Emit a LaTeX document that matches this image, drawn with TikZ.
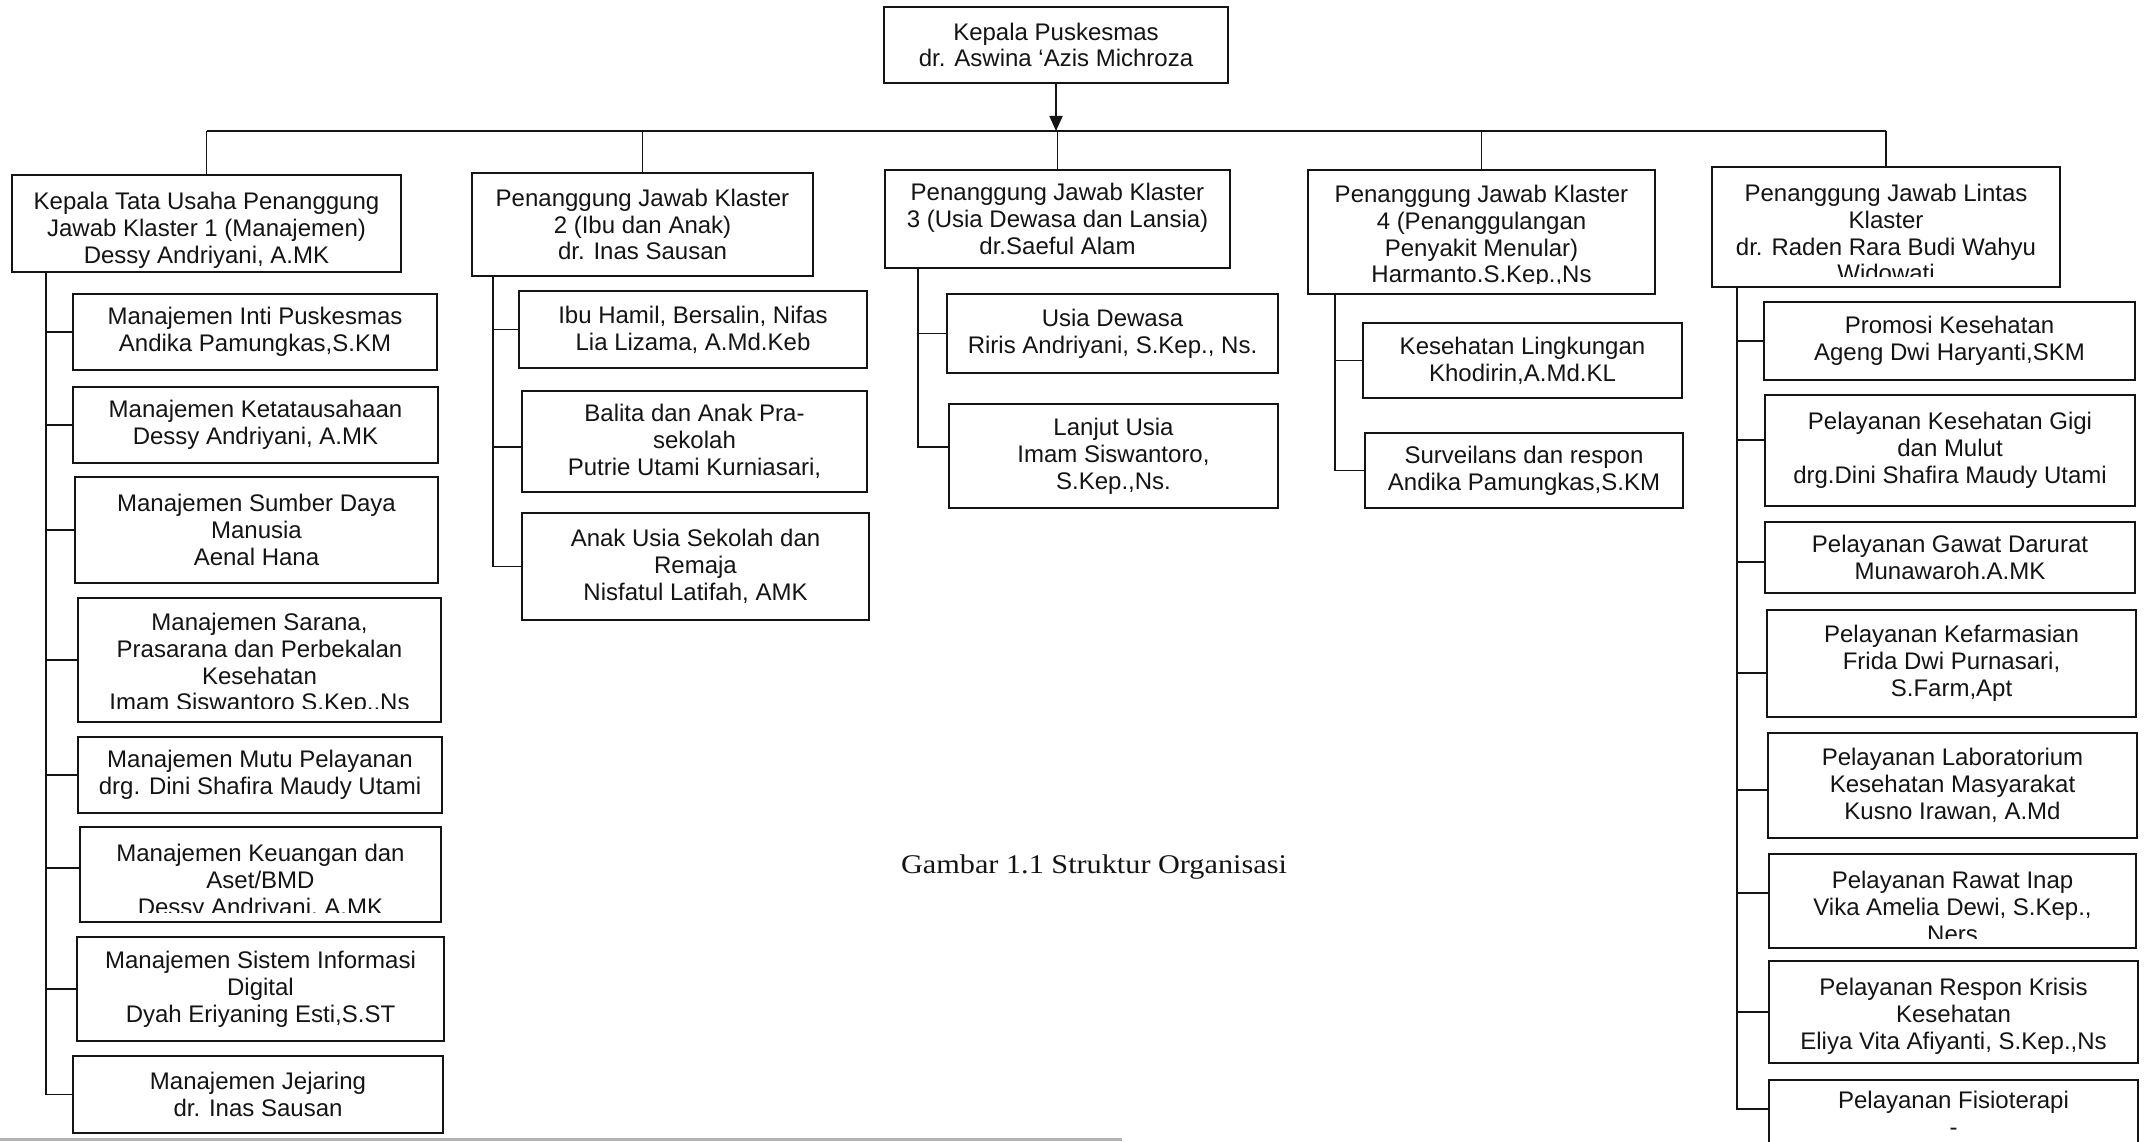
\documentclass[tikz,border=0pt]{standalone}
\usepackage{fontspec}
\setmainfont{Liberation Sans}
\newfontfamily\capserif[FakeStretch=1.12]{Liberation Serif}
\usetikzlibrary{arrows.meta}
\definecolor{ink}{HTML}{141414}
\newcommand\orgfont{\fontsize{24}{26.8}\selectfont}
\tikzset{
  orgbox/.style={draw=ink, line width=2.6pt, inner sep=0pt, align=center, font=\orgfont, text=ink},
  orgtext/.style={inner sep=0pt, align=center, font=\orgfont, text=ink},
  link/.style={draw=ink, line width=1.8pt},
}
% name, x1, y1, x2, y2, text
\newcommand\orgnode[6]{%
  \node[orgbox, minimum width={(#4)-(#2)}, minimum height={(#5)-(#3)}] (#1)
    at ({((#2)+(#4))/2},{((#3)+(#5))/2}) {#6};}
% name, x1, y1, x2, y2, cap top, clip y, text
\newcommand\cliporgnode[8]{%
  \node[orgbox, minimum width={(#4)-(#2)}, minimum height={(#5)-(#3)}] (#1)
    at ({((#2)+(#4))/2},{((#3)+(#5))/2}) {};
  \begin{scope}
    \clip ({(#2)+3},{(#3)+3}) rectangle ({(#4)-3},#7);
    \node[orgtext, anchor=north] (#1t) at ({((#2)+(#4))/2},#6) {#8};
  \end{scope}}
\begin{document}
\begin{tikzpicture}[x=1pt, y=-1pt]
\useasboundingbox (0,0) rectangle (2146,1142);
\clip (0,0) rectangle (2146,1142);
\fill[white] (0,0) rectangle (2146,1142);

% head
\orgnode{head}{884}{7}{1228}{83}{Kepala Puskesmas\\dr. Aswina ‘Azis Michroza}

% level 1
\cliporgnode{b1}{12}{175}{401}{272}{192}{268}{Kepala Tata Usaha Penanggung\\Jawab Klaster 1 (Manajemen)\\Dessy Andriyani, A.MK}
\orgnode{b2}{472}{173}{813}{276}{Penanggung Jawab Klaster\\2 (Ibu dan Anak)\\dr. Inas Sausan}
\orgnode{b3}{885}{170}{1230}{268}{Penanggung Jawab Klaster\\3 (Usia Dewasa dan Lansia)\\dr.Saeful Alam}
\cliporgnode{b4}{1308}{170}{1655}{294}{185}{283.5}{Penanggung Jawab Klaster\\4 (Penanggulangan\\Penyakit Menular)\\Harmanto.S.Kep.,Ns}
\cliporgnode{b5}{1712}{167}{2060}{287}{184}{276}{Penanggung Jawab Lintas\\Klaster\\dr. Raden Rara Budi Wahyu\\Widowati}

% column 1
\orgnode{c1a}{73}{294}{437}{370}{Manajemen Inti Puskesmas\\Andika Pamungkas,S.KM}
\orgnode{c1b}{73}{387}{438}{463}{Manajemen Ketatausahaan\\Dessy Andriyani, A.MK}
\orgnode{c1c}{75}{477}{438}{583}{Manajemen Sumber Daya\\Manusia\\Aenal Hana}
\cliporgnode{c1d}{78}{598}{441}{722}{613}{708}{Manajemen Sarana,\\Prasarana dan Perbekalan\\Kesehatan\\Imam Siswantoro S.Kep.,Ns}
\orgnode{c1e}{78}{737}{442}{813}{Manajemen Mutu Pelayanan\\drg. Dini Shafira Maudy Utami}
\cliporgnode{c1f}{80}{827}{441}{922}{844}{912}{Manajemen Keuangan dan\\Aset/BMD\\Dessy Andriyani, A.MK}
\orgnode{c1g}{77}{937}{444}{1041}{Manajemen Sistem Informasi\\Digital\\Dyah Eriyaning Esti,S.ST}
\orgnode{c1h}{73}{1056}{443}{1133}{Manajemen Jejaring\\dr. Inas Sausan}

% column 2
\orgnode{c2a}{519}{291}{867}{368}{Ibu Hamil, Bersalin, Nifas\\Lia Lizama, A.Md.Keb}
\orgnode{c2b}{522}{391}{867}{492}{Balita dan Anak Pra-\\sekolah\\Putrie Utami Kurniasari,}
\orgnode{c2c}{522}{513}{869}{620}{Anak Usia Sekolah dan\\Remaja\\Nisfatul Latifah, AMK}

% column 3
\orgnode{c3a}{947}{294}{1278}{373}{Usia Dewasa\\Riris Andriyani, S.Kep., Ns.}
\orgnode{c3b}{949}{404}{1278}{508}{Lanjut Usia\\Imam Siswantoro,\\S.Kep.,Ns.}

% column 4
\orgnode{c4a}{1363}{323}{1682}{398}{Kesehatan Lingkungan\\Khodirin,A.Md.KL}
\orgnode{c4b}{1365}{433}{1683}{508}{Surveilans dan respon\\Andika Pamungkas,S.KM}

% column 5
\orgnode{c5a}{1764}{302}{2135}{380}{Promosi Kesehatan\\Ageng Dwi Haryanti,SKM}
\orgnode{c5b}{1765}{395}{2135}{506}{Pelayanan Kesehatan Gigi\\dan Mulut\\drg.Dini Shafira Maudy Utami}
\orgnode{c5c}{1765}{522}{2135}{593}{Pelayanan Gawat Darurat\\Munawaroh.A.MK}
\orgnode{c5d}{1767}{610}{2136}{717}{Pelayanan Kefarmasian\\Frida Dwi Purnasari,\\S.Farm,Apt}
\orgnode{c5e}{1768}{733}{2137}{838}{Pelayanan Laboratorium\\Kesehatan Masyarakat\\Kusno Irawan, A.Md}
\cliporgnode{c5f}{1769}{854}{2136}{948}{871}{938}{Pelayanan Rawat Inap\\Vika Amelia Dewi, S.Kep.,\\Ners}
\cliporgnode{c5g}{1769}{961}{2138}{1063}{978}{1055}{Pelayanan Respon Krisis\\Kesehatan\\Eliya Vita Afiyanti, S.Kep.,Ns}
\cliporgnode{c5h}{1769}{1080}{2138}{1170}{1091}{1160}{Pelayanan Fisioterapi\\-}

% caption
\node[font=\capserif\fontsize{27}{32}\selectfont, anchor=base, text=ink, inner sep=0pt] (cap) at (1094,873) {Gambar 1.1 Struktur Organisasi};

% connectors: head to bus
\coordinate (busy) at (0,131);
\draw[link, -{Triangle[length=15pt, width=13pt]}] (head.south) -- (head.south |- busy);
\draw[link] (b1.north |- busy) -- (b5.north |- busy);
\foreach \n in {b1,b2,b3,b4,b5} \draw[link] (\n.north |- busy) -- (\n.north);

% spines
\coordinate (sp1) at (46,0);
\coordinate (sp2) at (493,0);
\coordinate (sp3) at (918,0);
\coordinate (sp4) at (1335,0);
\coordinate (sp5) at (1737,0);

\foreach \c in {c1a,c1b,c1c,c1d,c1e,c1g,c1h} \draw[link] (sp1 |- b1.south) |- (\c.west);
\draw[link] (sp1 |- b1.south) |- ([yshift=6.5pt]c1f.west);

\draw[link] (sp2 |- b2.south) |- (c2a.west);
\draw[link] (sp2 |- b2.south) |- ([yshift=-5.5pt]c2b.west);
\draw[link] (sp2 |- b2.south) |- (c2c.west);

\draw[link] (sp3 |- b3.south) |- (c3a.west);
\draw[link] (sp3 |- b3.south) |- ([yshift=9pt]c3b.west);

\draw[link] (sp4 |- b4.south) |- (c4a.west);
\draw[link] (sp4 |- b4.south) |- (c4b.west);

\draw[link] (sp5 |- b5.south) |- (c5a.west);
\draw[link] (sp5 |- b5.south) |- ([yshift=10.5pt]c5b.west);
\draw[link] (sp5 |- b5.south) |- ([yshift=-4.5pt]c5c.west);
\draw[link] (sp5 |- b5.south) |- ([yshift=-9.5pt]c5d.west);
\draw[link] (sp5 |- b5.south) |- ([yshift=-4.5pt]c5e.west);
\draw[link] (sp5 |- b5.south) |- ([yshift=8pt]c5f.west);
\draw[link] (sp5 |- b5.south) |- (c5g.west);
\draw[link] (sp5 |- b5.south) |- ([yshift=16pt]c5h.west);

% page edge line
\draw[line width=3pt, color=gray!60] (0,1139) -- (1122,1139);
\end{tikzpicture}
\end{document}
